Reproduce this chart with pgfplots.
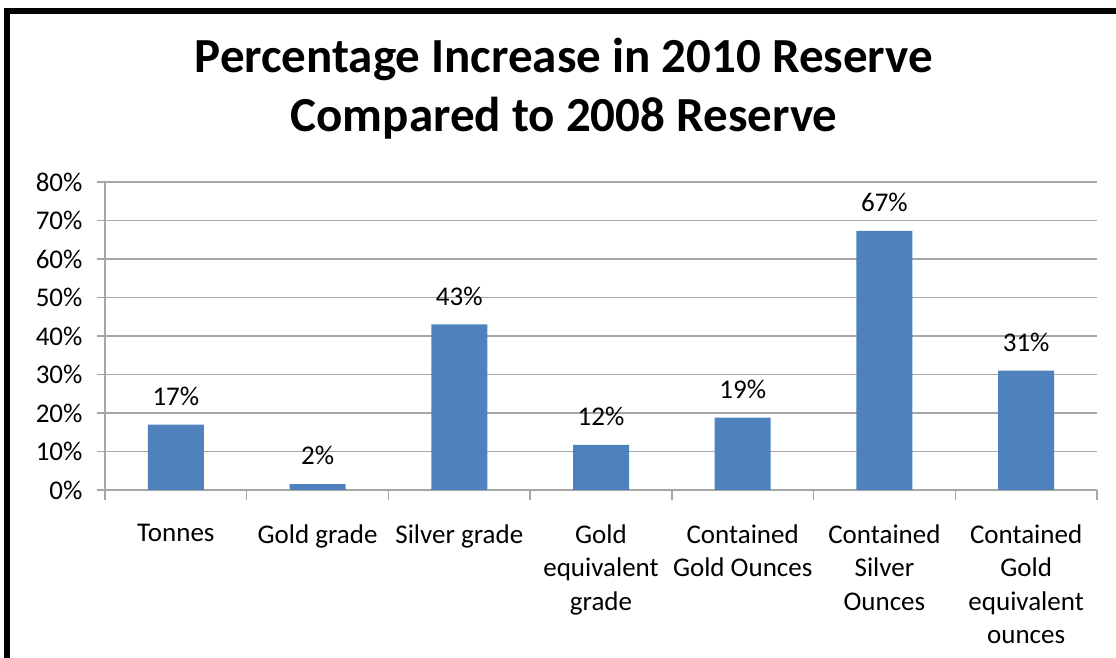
\documentclass[border=0pt]{standalone}
\usepackage{pgfplots}
\pgfplotsset{compat=1.18}
\usepackage{fontspec}
\setmainfont{Carlito}
\definecolor{barblue}{HTML}{4F81BD}
\definecolor{gridgray}{HTML}{A6A6A6}
\begin{document}
\begin{tikzpicture}[x=1pt,y=1pt]
\path[use as bounding box] (0,0) rectangle (1116,658);
\draw[line width=6pt, line join=miter] (7,0) -- (7,647) -- (1116,647);
\node[anchor=base, font=\fontsize{49}{58}\selectfont\bfseries, inner sep=0pt] at (564,585) {Percentage Increase in 2010 Reserve};
\node[anchor=base, font=\fontsize{49}{58}\selectfont\bfseries, inner sep=0pt] at (564,526) {Compared to 2008 Reserve};
\begin{axis}[
  at={(105pt,168pt)}, anchor=south west,
  scale only axis, width=992pt, height=308pt,
  xmin=-0.5, xmax=6.5, ymin=0, ymax=80,
  axis x line=bottom, axis y line=left,
  axis line style={draw=gridgray, line width=1.5pt, -},
  ymajorgrids, major grid style={draw=gridgray, line width=1.5pt},
  tick align=outside,
  ytick={0,10,...,80},
  yticklabels={0\%,10\%,20\%,30\%,40\%,50\%,60\%,70\%,80\%},
  major tick length=8pt, minor tick length=10pt,
  y tick style={draw=gridgray, line width=1.5pt},
  xtick={0,...,6},
  xticklabels={Tonnes, Gold grade, Silver grade, Gold\\equivalent\\grade, Contained\\Gold Ounces, Contained\\Silver\\Ounces, Contained\\Gold\\equivalent\\ounces},
  major x tick style={draw=none},
  minor xtick={-0.5,0.5,...,6.5},
  minor x tick style={draw=gridgray, line width=1.5pt},
  xticklabel style={font=\fontsize{27}{33.5}\selectfont, align=center, anchor=north, yshift=-23pt},
  yticklabel style={font=\fontsize{27}{33}\selectfont, anchor=east, xshift=-11pt},
  ybar, bar width=56pt,
  nodes near coords, point meta=explicit symbolic,
  every node near coord/.append style={font=\fontsize{27}{33}\selectfont, text=black, inner sep=0pt, yshift=19pt},
]
\addplot[fill=barblue, draw=none] coordinates {
  (0,17) [17\%]
  (1,1.5) [2\%]
  (2,43) [43\%]
  (3,11.7) [12\%]
  (4,18.8) [19\%]
  (5,67.3) [67\%]
  (6,31) [31\%]
};
\end{axis}
\end{tikzpicture}
\end{document}
